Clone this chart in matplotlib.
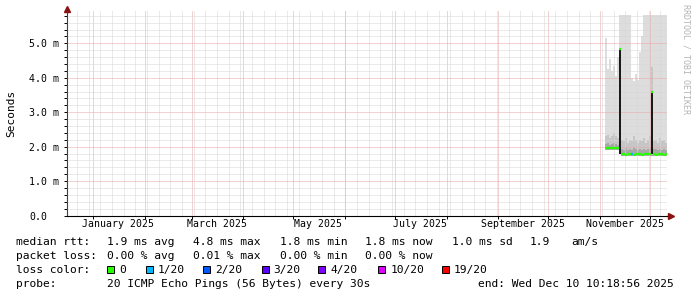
import numpy as np
import pandas as pd
import matplotlib
matplotlib.use('Agg')
import matplotlib.pyplot as plt
import matplotlib.dates as mdates
from matplotlib.patches import Rectangle

plt.rcParams['font.family'] = 'DejaVu Sans Mono'

W, H = 697, 297

# 1.2 day buckets, data only exists for the last ~5 weeks
bin_start = pd.date_range('2025-11-04 00:00', periods=31, freq='1728min')
bin_width = 1.2  # days

smoke_max = [5.15, 4.25, 4.55, 4.20, 4.35, 4.05, 4.60, 5.82, 5.82, 5.82, 5.82,
             5.82, 5.82, 4.00, 3.90, 4.10, 3.95, 4.75, 5.20, 5.82, 5.82, 5.82,
             5.82, 5.82, 5.82, 5.82, 5.82, 5.82, 5.82, 5.82, 5.82]
smoke_hi = [2.30, 2.35, 2.25, 2.30, 2.40, 2.30, 2.25, 4.85, 2.20, 2.15, 2.25,
            2.10, 2.20, 2.15, 2.30, 2.20, 2.10, 2.20, 2.15, 2.25, 2.10, 2.20,
            2.30, 4.30, 2.15, 2.20, 2.10, 2.25, 2.15, 2.20, 2.10]
dark_hi = [2.08, 2.10, 2.06, 2.08, 2.12, 2.07, 2.05, 2.00, 1.93, 1.90, 1.95,
           1.91, 1.93, 1.90, 1.96, 1.92, 1.90, 1.93, 1.91, 1.94, 1.90, 1.92,
           1.95, 1.90, 1.92, 1.94, 1.90, 1.93, 1.91, 1.92, 1.90]
median = [1.96, 1.96, 1.95, 1.96, 1.96, 1.95, 1.96, 4.85, 1.78, 1.78, 1.77,
          1.78, 1.78, 1.78, 1.77, 1.78, 1.78, 1.78, 1.77, 1.78, 1.78, 1.78,
          1.78, 3.60, 1.78, 1.77, 1.78, 1.78, 1.78, 1.77, 1.78]
smoke_min = [1.90, 1.90, 1.89, 1.90, 1.90, 1.89, 1.90, 1.80, 1.73, 1.73, 1.72,
             1.73, 1.73, 1.73, 1.72, 1.73, 1.73, 1.73, 1.72, 1.73, 1.73, 1.73,
             1.73, 1.73, 1.73, 1.72, 1.73, 1.73, 1.73, 1.72, 1.73]
loss = [0, 0, 0, 0, 0, 0, 0, 0, 0, 0, 0, 0, 0, 1, 0, 0, 0, 0, 0, 0, 0, 0,
        0, 0, 0, 0, 0, 0, 0, 0, 0]

# dense columns where the median jumped
spike_bins = [7, 23]
spike_lo = [1.80, 1.78]
spike_hi = [4.85, 3.60]

loss_labels = ['0', '1/20', '2/20', '3/20', '4/20', '10/20', '19/20']
loss_values = [0, 1, 2, 3, 4, 10, 19]
loss_colors = ['#26ff00', '#00b8ff', '#0059ff', '#5e00ff', '#7e00ff', '#dd00ff', '#ff0000']

y_ticks = [0, 1, 2, 3, 4, 5]
y_labels = ['0.0', '1.0 m', '2.0 m', '3.0 m', '4.0 m', '5.0 m']
month_labels = ['January 2025', 'March 2025', 'May 2025', 'July 2025',
                'September 2025', 'November 2025']
month_label_dates = ['2025-01-16', '2025-03-16', '2025-05-16', '2025-07-16',
                     '2025-09-16', '2025-11-16']

x_start = pd.Timestamp('2024-12-16 04:48')
x_end = pd.Timestamp('2025-12-11 04:48')

fig = plt.figure(figsize=(W / 100, H / 100), dpi=100)
fig.patch.set_facecolor('white')
ax = fig.add_axes([67 / W, 1 - 215.5 / H, 600 / W, 204.5 / H])

t = mdates.date2num(bin_start)
edges = np.append(t, t[-1] + bin_width)

def step(v):
    v = np.asarray(v, dtype=float)
    return np.append(v, v[-1])

ax.fill_between(edges, step(smoke_min), step(smoke_max), step='post',
                color='#DDDDDD', linewidth=0, zorder=1)
ax.fill_between(edges, step(smoke_min), step(smoke_hi), step='post',
                color='#C6C6C6', linewidth=0, zorder=1.1)
ax.fill_between(edges, step(smoke_min), step(dark_hi), step='post',
                color='#A8A8A8', linewidth=0, zorder=1.2)
ax.bar(t[spike_bins], np.array(spike_hi) - np.array(spike_lo), width=bin_width,
       bottom=spike_lo, align='edge', color='#1A1A1A', linewidth=0, zorder=2.7)

color_of = dict(zip(loss_values, loss_colors))
ax.hlines(median, t, t + bin_width, colors=[color_of[l] for l in loss],
          linewidth=1.6, zorder=3)

ax.set_xlim(mdates.date2num(x_start), mdates.date2num(x_end))
ax.set_ylim(0, 5.94)

# grid
dot = (0, (1, 1))
ax.set_yticks(y_ticks)
ax.set_yticklabels(y_labels, ha='left')
ax.set_yticks(np.arange(0, 5.95, 0.2), minor=True)
ax.xaxis.set_major_locator(mdates.MonthLocator())
ax.set_xticks(mdates.date2num(pd.to_datetime(month_label_dates)), minor=True)
ax.set_xticklabels(month_labels, minor=True)
ax.tick_params(axis='x', which='major', labelbottom=False, length=2, width=0.7)
ax.tick_params(axis='x', which='minor', length=0, pad=2.5, labelsize=7.1)
ax.tick_params(axis='y', which='both', length=2, width=0.7, direction='out')
ax.tick_params(axis='y', which='major', pad=25.2, labelsize=7.1)

ax.set_axisbelow(False)
ax.grid(which='minor', axis='y', color='#D6D6D6', linestyle=dot, linewidth=0.72)
ax.grid(which='major', axis='y', color='#EBA6A6', linestyle=dot, linewidth=0.72)
ax.grid(which='major', axis='x', color='#EBA6A6', linestyle=dot, linewidth=0.72)

weeks = pd.date_range(x_start, x_end, freq='W-SUN')
ax.vlines(mdates.date2num(weeks), 0, 1, transform=ax.get_xaxis_transform(),
          color='#D6D6D6', linestyle=dot, linewidth=0.72, zorder=2.4)

for s in ['top', 'right']:
    ax.spines[s].set_visible(False)
ax.spines['left'].set_color('#404040')
ax.spines['bottom'].set_color('black')
ax.spines['left'].set_linewidth(0.8)
ax.spines['bottom'].set_linewidth(0.8)

# axis arrows
ax.plot([0, 0], [1, 1.01], transform=ax.transAxes, color='#404040', lw=0.8, clip_on=False)
ax.plot([1, 1.005], [0, 0], transform=ax.transAxes, color='black', lw=0.8, clip_on=False)
ax.plot([0], [1.01], marker='^', markersize=4.5, color='#8B1010',
        transform=ax.transAxes, clip_on=False)
ax.plot([1.007], [0], marker='>', markersize=4.5, color='#8B1010',
        transform=ax.transAxes, clip_on=False)

fig.text(11 / W, 1 - 113 / H, 'Seconds', rotation=90, ha='center', va='center', fontsize=8)
fig.text(686 / W, 1 - 4 / H, 'RRDTOOL / TOBI OETIKER', rotation=270, ha='center',
         va='top', fontsize=6, color='#B4B4B4')

def put(x, y, s):
    fig.text(x / W, 1 - y / H, s, ha='left', va='baseline', fontsize=8.1)

put(16, 245, 'median rtt:')
put(107, 245, '1.9 ms avg')
put(193, 245, '4.8 ms max')
put(280, 245, '1.8 ms min')
put(365, 245, '1.8 ms now')
put(451.5, 245, '1.0 ms sd')
put(530, 245, '1.9')
put(571.5, 245, 'am/s')

put(16, 259, 'packet loss:')
put(107, 259, '0.00 % avg')
put(193, 259, '0.01 % max')
put(280, 259, '0.00 % min')
put(365, 259, '0.00 % now')

put(16, 273, 'loss color:')
box_x = [107, 145.7, 203, 261.7, 318.3, 378.3, 441.7]
for bx, lab, col in zip(box_x, loss_labels, loss_colors):
    fig.add_artist(Rectangle((bx / W, 1 - 272.5 / H), 7 / W, 7 / H,
                             transform=fig.transFigure, facecolor=col,
                             edgecolor='black', linewidth=0.7))
    put(bx + 12, 273, lab)

put(16, 287, 'probe:')
put(107, 287, '20 ICMP Echo Pings (56 Bytes) every 30s')
put(478.3, 287, 'end: Wed Dec 10 10:18:56 2025')

fig.savefig('out.png', dpi=100)
